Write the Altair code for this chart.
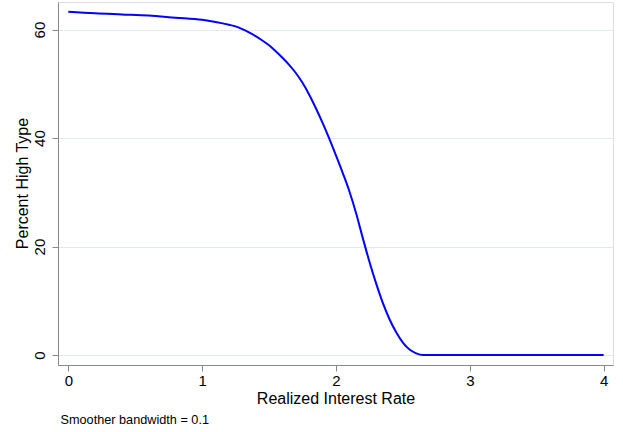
import altair as alt
import pandas as pd

rate = [0.0, 0.2, 0.4, 0.6, 0.8, 1.0, 1.1, 1.2, 1.25, 1.3, 1.35, 1.4, 1.45,
        1.5, 1.55, 1.6, 1.65, 1.7, 1.75, 1.8, 1.85, 1.9, 1.95, 2.0, 2.05,
        2.1, 2.15, 2.2, 2.25, 2.3, 2.35, 2.4, 2.45, 2.5, 2.55, 2.6, 2.65,
        3.0, 3.5, 4.0]
pct_high = [63.3, 63.0, 62.8, 62.6, 62.2, 61.8, 61.4, 60.9, 60.6, 60.1, 59.5,
            58.8, 58.0, 57.1, 56.0, 54.8, 53.5, 52.0, 50.2, 48.0, 45.5, 42.8,
            39.9, 36.8, 33.6, 30.2, 26.2, 21.6, 17.2, 13.2, 9.6, 6.6, 4.2,
            2.3, 1.0, 0.3, 0.0, 0.0, 0.0, 0.0]

x_ticks = [0, 1, 2, 3, 4]
y_ticks = [0, 20, 40, 60]

df = pd.DataFrame({"rate": rate, "pct": pct_high})

FONT = "Liberation Sans"

line = alt.Chart(df).mark_line(color="#0000ff", strokeWidth=2,
                               interpolate="monotone").encode(
    x=alt.X("rate:Q",
            scale=alt.Scale(domain=[-0.077, 4.07], nice=False, zero=False),
            axis=alt.Axis(values=x_ticks, title="Realized Interest Rate",
                          grid=False, format="d", tickSize=6,
                          labelPadding=2, labelFontSize=15,
                          titleFontSize=16, titleFontWeight="normal",
                          titleBaseline="alphabetic", titleY=38)),
    y=alt.Y("pct:Q",
            scale=alt.Scale(domain=[-1.84, 65.09], nice=False, zero=False),
            axis=alt.Axis(values=y_ticks, title="Percent High Type",
                          grid=True, gridColor="#e2eaee", gridWidth=1,
                          format="d", tickSize=6, labelAngle=270,
                          labelAlign="center", labelBaseline="alphabetic",
                          labelPadding=8, labelFontSize=15,
                          titleFontSize=16, titleFontWeight="normal",
                          titleAngle=270, titleBaseline="alphabetic",
                          titleAlign="center", titleX=-31, titleY=181)),
)

chart = line.properties(
    width=555, height=363,
    title=alt.TitleParams("Smoother bandwidth = 0.1", orient="bottom",
                          anchor="start", frame="group", fontSize=12.7,
                          fontWeight="normal", font=FONT, color="#000",
                          offset=8, dx=2.5),
    autosize=alt.AutoSizeParams(type="none"),
    padding={"left": 58, "top": 2, "right": 10, "bottom": 67},
).configure_view(stroke=None).configure_axis(
    labelFont=FONT, titleFont=FONT, labelColor="#000", titleColor="#000",
    domainColor="#222", tickColor="#222", domainWidth=1, tickWidth=1,
).configure(background="white")

chart.save("out.html", embed_options={"renderer": "svg", "actions": False})
